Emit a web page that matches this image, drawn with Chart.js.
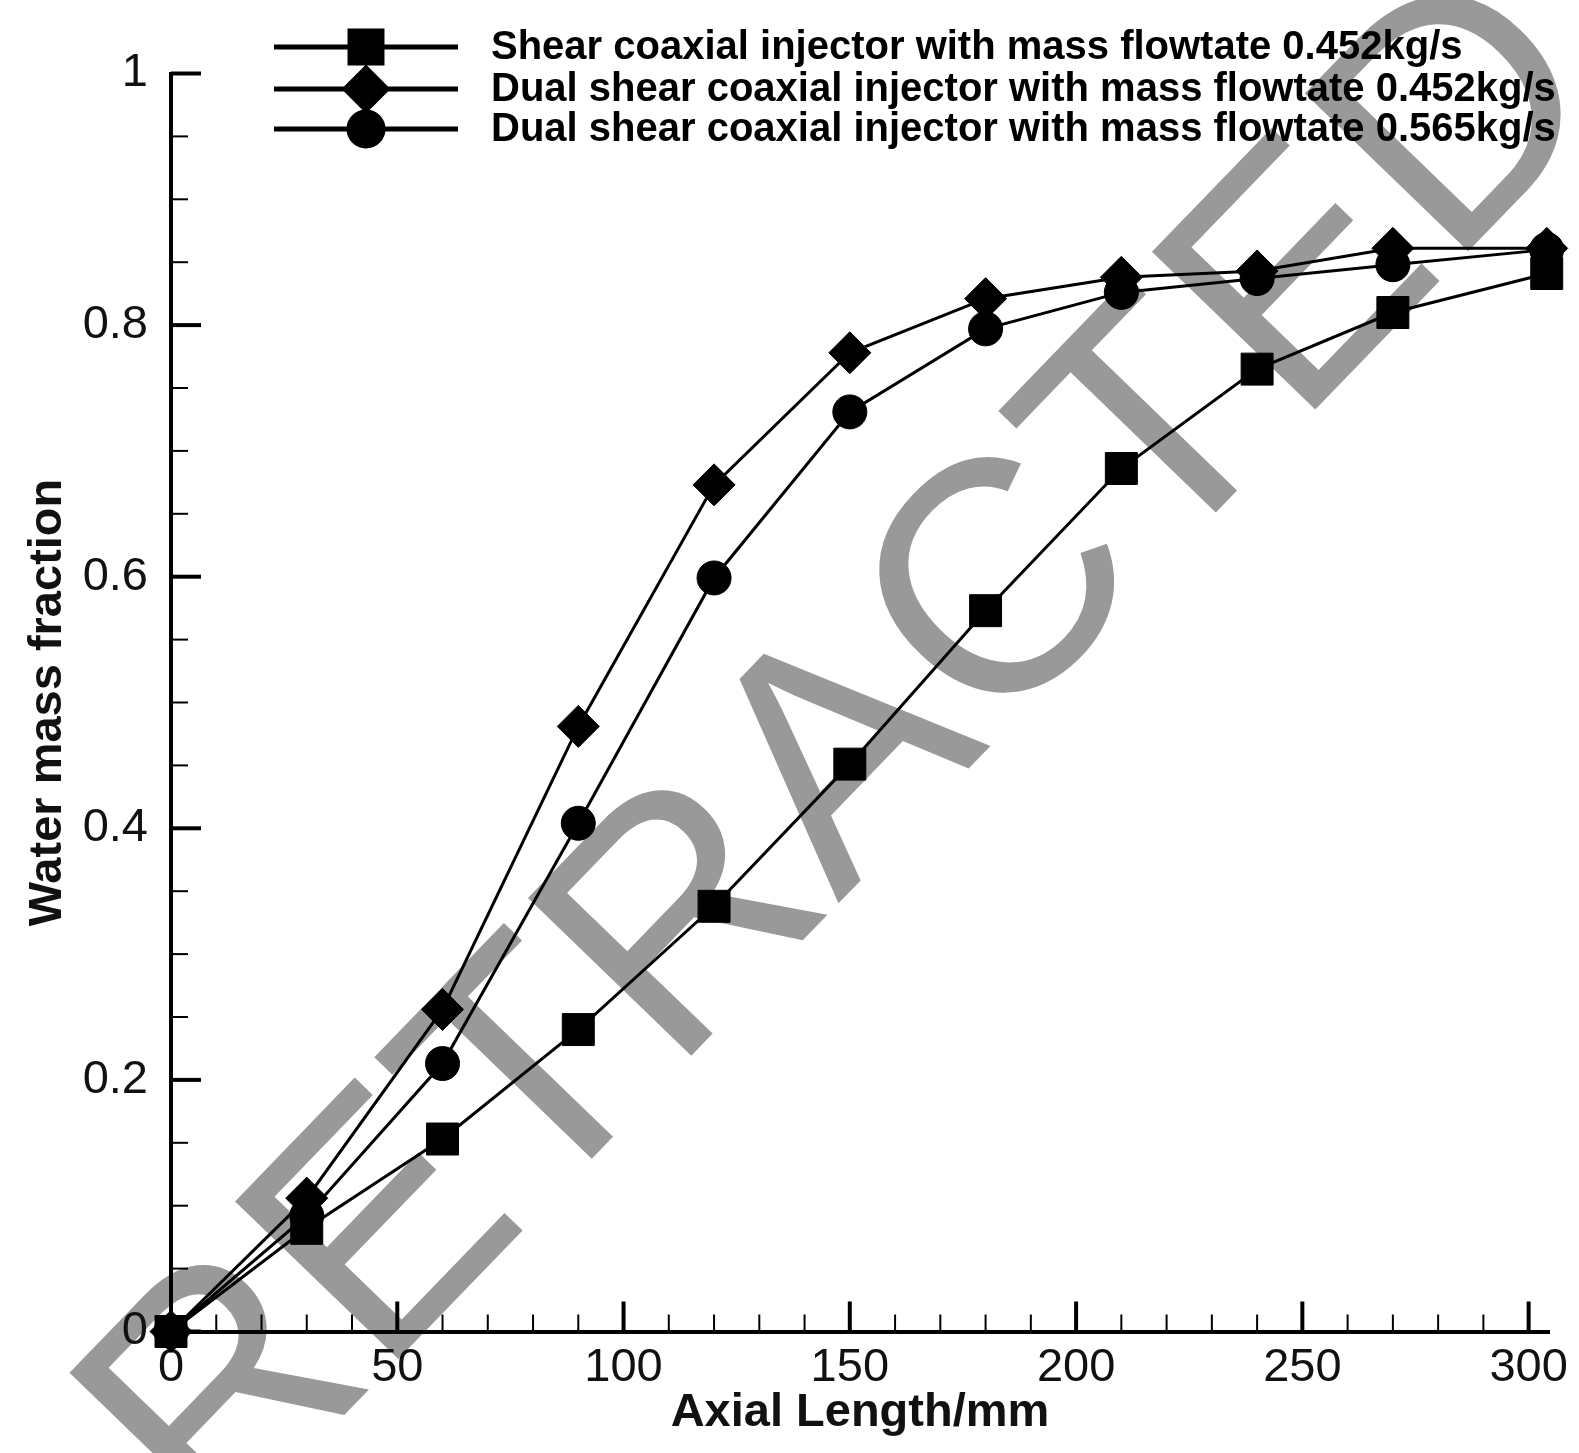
<!DOCTYPE html>
<html>
<head>
<meta charset="utf-8">
<script src="https://cdn.jsdelivr.net/npm/chart.js@4.4.1/dist/chart.umd.min.js"></script>
<style>
  html, body { margin: 0; padding: 0; background: #ffffff; }
  #wrap { width: 1579px; height: 1453px; position: relative; }
  canvas { display: block; }
</style>
</head>
<body>
<div id="wrap"><canvas id="c" width="1579" height="1453"></canvas></div>
<script>
// ---------------- data ----------------
const axialLength = [0, 30, 60, 90, 120, 150, 180, 210, 240, 270, 304];
const shearCoaxial452 = [0, 0.082, 0.153, 0.240, 0.338, 0.451, 0.573, 0.686, 0.765, 0.810, 0.841];
const dualShear452    = [0, 0.106, 0.256, 0.481, 0.673, 0.778, 0.821, 0.838, 0.843, 0.861, 0.861];
const dualShear565    = [0, 0.092, 0.213, 0.404, 0.599, 0.731, 0.797, 0.826, 0.837, 0.848, 0.860];
const seriesLabels = [
  'Shear coaxial injector with mass flowtate 0.452kg/s',
  'Dual shear coaxial injector with mass flowtate 0.452kg/s',
  'Dual shear coaxial injector with mass flowtate 0.565kg/s'
];
const xTickValues = [0, 50, 100, 150, 200, 250, 300];
const xTickLabels = ['0', '50', '100', '150', '200', '250', '300'];
const xMinorValues = [10, 20, 30, 40, 60, 70, 80, 90, 110, 120, 130, 140, 160, 170, 180, 190, 210, 220, 230, 240, 260, 270, 280, 290];
const yTickValues = [0, 0.2, 0.4, 0.6, 0.8, 1];
const yTickLabels = ['0', '0.2', '0.4', '0.6', '0.8', '1'];
const yMinorValues = [0.05, 0.1, 0.15, 0.25, 0.3, 0.35, 0.45, 0.5, 0.55, 0.65, 0.7, 0.75, 0.85, 0.9, 0.95];
const xAxisTitle = 'Axial Length/mm';
const yAxisTitle = 'Water mass fraction';
const watermarkText = 'RETRACTED';

// ---------------- helpers ----------------
function toPoints(xs, ys) { return xs.map((x, i) => ({ x: x, y: ys[i] })); }
function labelFor(values, labels, v) {
  const i = values.findIndex(t => Math.abs(t - v) < 1e-6);
  return i >= 0 ? labels[i] : '';
}

const watermarkPlugin = {
  id: 'watermark',
  beforeDraw(chart) {
    const ctx = chart.ctx;
    ctx.save();
    ctx.fillStyle = '#ffffff';
    ctx.fillRect(0, 0, chart.width, chart.height);
    ctx.translate(214, 1550);
    ctx.rotate(-46 * Math.PI / 180);
    ctx.font = '330px "Liberation Sans", Arial, sans-serif';
    ctx.fillStyle = '#999999';
    ctx.textAlign = 'left';
    ctx.textBaseline = 'alphabetic';
    ctx.fillText(watermarkText, 0, 0);
    ctx.restore();
  }
};

const innerTicksPlugin = {
  id: 'innerTicks',
  beforeDatasetsDraw(chart) {
    const ctx = chart.ctx;
    const xs = chart.scales.x, ys = chart.scales.y;
    const left = chart.chartArea.left, bottom = chart.chartArea.bottom;
    ctx.save();
    ctx.strokeStyle = '#000000';
    ctx.lineCap = 'butt';
    function tick(x1, y1, x2, y2, w) {
      ctx.lineWidth = w;
      ctx.beginPath(); ctx.moveTo(x1, y1); ctx.lineTo(x2, y2); ctx.stroke();
    }
    xTickValues.forEach(v => { const p = xs.getPixelForValue(v); tick(p, bottom, p, bottom - 30, 4); });
    xMinorValues.forEach(v => { const p = xs.getPixelForValue(v); tick(p, bottom, p, bottom - 17, 2); });
    yTickValues.forEach(v => { const p = ys.getPixelForValue(v); tick(left, p, left + 30, p, 4); });
    yMinorValues.forEach(v => { const p = ys.getPixelForValue(v); tick(left, p, left + 17, p, 2); });
    ctx.restore();
  }
};

const customLegendPlugin = {
  id: 'customLegend',
  afterDraw(chart) {
    const ctx = chart.ctx;
    const rowsY = [47, 89, 129];
    ctx.save();
    chart.data.datasets.forEach((ds, i) => {
      const y = rowsY[i];
      ctx.strokeStyle = '#000000';
      ctx.lineWidth = 5;
      ctx.beginPath(); ctx.moveTo(274, y); ctx.lineTo(458, y); ctx.stroke();
      ctx.fillStyle = '#000000';
      Chart.helpers.drawPoint(ctx, {
        pointStyle: ds.pointStyle, radius: ds.pointRadius, rotation: 0, borderWidth: 1
      }, 366, y);
      ctx.fill();
      ctx.font = 'bold 40px "Liberation Sans", Arial, sans-serif';
      ctx.textAlign = 'left';
      ctx.textBaseline = 'middle';
      ctx.fillStyle = '#000000';
      ctx.fillText(ds.label, 491, y + 1);
    });
    ctx.restore();
  }
};

function makeDataset(label, ys, style, radius) {
  return {
    label: label,
    data: toPoints(axialLength, ys),
    borderColor: '#000000',
    backgroundColor: '#000000',
    borderWidth: 3,
    pointStyle: style,
    pointRadius: radius,
    pointHoverRadius: radius,
    pointBackgroundColor: '#000000',
    pointBorderColor: '#000000',
    pointBorderWidth: 1,
    tension: 0,
    fill: false,
    clip: false
  };
}

new Chart(document.getElementById('c'), {
  type: 'line',
  data: {
    datasets: [
      makeDataset(seriesLabels[0], shearCoaxial452, 'rect', 22.6),
      makeDataset(seriesLabels[1], dualShear452, 'rectRot', 21),
      makeDataset(seriesLabels[2], dualShear565, 'circle', 17)
    ]
  },
  options: {
    responsive: false,
    animation: false,
    devicePixelRatio: 1,
    layout: { padding: { top: 73.5, right: 30, left: 0, bottom: 0 } },
    plugins: {
      legend: { display: false },
      tooltip: { enabled: false },
      title: { display: false }
    },
    scales: {
      x: {
        type: 'linear',
        min: 0,
        max: 304.5,
        afterFit(scale) { scale.height = 121.5; },
        border: { display: true, color: '#000000', width: 4 },
        grid: { display: false, drawTicks: false },
        ticks: {
          stepSize: 50,
          includeBounds: false,
          autoSkip: false,
          maxRotation: 0,
          padding: 8,
          color: '#111111',
          font: { family: '"Liberation Sans", Arial, sans-serif', size: 47 },
          callback: (v) => labelFor(xTickValues, xTickLabels, v)
        },
        title: {
          display: true,
          text: xAxisTitle,
          color: '#111111',
          font: { family: '"Liberation Sans", Arial, sans-serif', size: 47, weight: 'bold' },
          padding: { top: 0, bottom: 12 }
        }
      },
      y: {
        type: 'linear',
        min: 0,
        max: 1,
        afterFit(scale) { scale.width = 171; },
        border: { display: true, color: '#000000', width: 4 },
        grid: { display: false, drawTicks: false },
        ticks: {
          stepSize: 0.2,
          autoSkip: false,
          padding: 23,
          color: '#111111',
          font: { family: '"Liberation Sans", Arial, sans-serif', size: 47 },
          callback: (v) => labelFor(yTickValues, yTickLabels, v)
        },
        title: {
          display: true,
          text: yAxisTitle,
          color: '#111111',
          font: { family: '"Liberation Sans", Arial, sans-serif', size: 47, weight: 'bold' },
          padding: { top: 20, bottom: 0 }
        }
      }
    }
  },
  plugins: [watermarkPlugin, innerTicksPlugin, customLegendPlugin]
});
</script>
</body>
</html>
